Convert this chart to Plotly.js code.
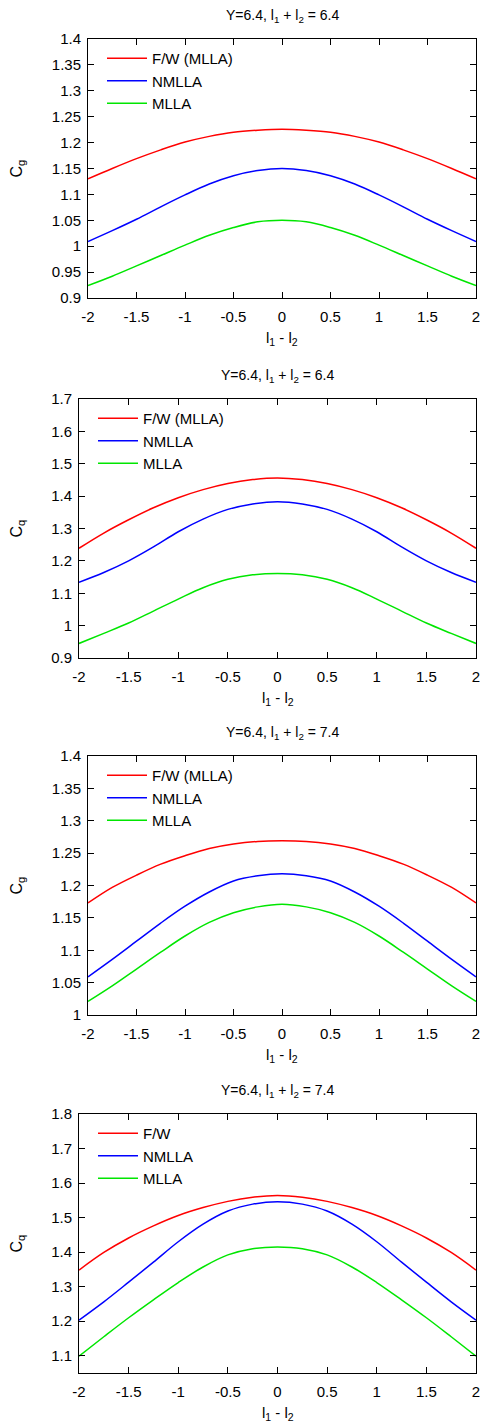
<!DOCTYPE html>
<html>
<head>
<meta charset="utf-8">
<script src="https://cdn.plot.ly/plotly-3.0.1.min.js"></script>
<style>
html,body{margin:0;padding:0;background:#fff;}
#chart{width:482px;height:1422px;}
</style>
</head>
<body>
<div id="chart"></div>
<script>
// ---- data ----
const x = [-2, -1.75, -1.5, -1.25, -1, -0.75, -0.5, -0.25, 0, 0.25, 0.5, 0.75, 1, 1.25, 1.5, 1.75, 2];

// Panel 1: Cg, l1+l2 = 6.4
const p1_fw    = [1.130, 1.150, 1.169, 1.186, 1.201, 1.212, 1.220, 1.224, 1.226, 1.224, 1.220, 1.212, 1.201, 1.186, 1.169, 1.150, 1.130];
const p1_nmlla = [1.009, 1.030, 1.052, 1.076, 1.099, 1.120, 1.136, 1.146, 1.150, 1.146, 1.136, 1.120, 1.099, 1.076, 1.052, 1.030, 1.009];
const p1_mlla  = [0.924, 0.942, 0.962, 0.982, 1.002, 1.021, 1.036, 1.047, 1.050, 1.047, 1.036, 1.021, 1.002, 0.982, 0.962, 0.942, 0.924];

// Panel 2: Cq, l1+l2 = 6.4
const p2_fw    = [1.239, 1.286, 1.327, 1.364, 1.395, 1.420, 1.439, 1.451, 1.456, 1.451, 1.439, 1.420, 1.395, 1.364, 1.327, 1.286, 1.239];
const p2_nmlla = [1.134, 1.164, 1.200, 1.243, 1.290, 1.329, 1.359, 1.376, 1.383, 1.376, 1.359, 1.329, 1.290, 1.243, 1.200, 1.164, 1.134];
const p2_mlla  = [0.945, 0.976, 1.008, 1.045, 1.082, 1.117, 1.143, 1.157, 1.161, 1.157, 1.143, 1.117, 1.082, 1.045, 1.008, 0.976, 0.945];

// Panel 3: Cg, l1+l2 = 7.4
const p3_fw    = [1.173, 1.197, 1.216, 1.233, 1.246, 1.257, 1.264, 1.268, 1.269, 1.268, 1.264, 1.257, 1.246, 1.233, 1.216, 1.197, 1.173];
const p3_nmlla = [1.059, 1.086, 1.114, 1.142, 1.168, 1.190, 1.207, 1.215, 1.218, 1.215, 1.207, 1.190, 1.168, 1.142, 1.114, 1.086, 1.059];
const p3_mlla  = [1.021, 1.045, 1.071, 1.097, 1.122, 1.143, 1.158, 1.167, 1.171, 1.167, 1.158, 1.143, 1.122, 1.097, 1.071, 1.045, 1.021];

// Panel 4: Cq, l1+l2 = 7.4
const p4_fw    = [1.348, 1.399, 1.441, 1.476, 1.506, 1.529, 1.547, 1.559, 1.564, 1.559, 1.547, 1.529, 1.506, 1.476, 1.441, 1.399, 1.348];
const p4_nmlla = [1.203, 1.256, 1.313, 1.371, 1.430, 1.481, 1.519, 1.539, 1.546, 1.539, 1.519, 1.481, 1.430, 1.371, 1.313, 1.256, 1.203];
const p4_mlla  = [1.099, 1.155, 1.210, 1.262, 1.312, 1.357, 1.392, 1.410, 1.415, 1.410, 1.392, 1.357, 1.312, 1.262, 1.210, 1.155, 1.099];

const titles = [
  "Y=6.4, l<sub>1</sub> + l<sub>2</sub> = 6.4",
  "Y=6.4, l<sub>1</sub> + l<sub>2</sub> = 6.4",
  "Y=6.4, l<sub>1</sub> + l<sub>2</sub> = 7.4",
  "Y=6.4, l<sub>1</sub> + l<sub>2</sub> = 7.4"
];
const yTitles = ["C<sub>g</sub>", "C<sub>q</sub>", "C<sub>g</sub>", "C<sub>q</sub>"];
const xTitle = "l<sub>1</sub> - l<sub>2</sub>";
const fwNames = ["F/W (MLLA)", "F/W (MLLA)", "F/W (MLLA)", "F/W"];

const xTickVals = [-2, -1.5, -1, -0.5, 0, 0.5, 1, 1.5, 2];
const xTickText = ["-2", "-1.5", "-1", "-0.5", "0", "0.5", "1", "1.5", "2"];

const y1TickVals = [0.9, 0.95, 1, 1.05, 1.1, 1.15, 1.2, 1.25, 1.3, 1.35, 1.4];
const y1TickText = ["0.9", "0.95", "1", "1.05", "1.1", "1.15", "1.2", "1.25", "1.3", "1.35", "1.4"];
const y2TickVals = [0.9, 1, 1.1, 1.2, 1.3, 1.4, 1.5, 1.6, 1.7];
const y2TickText = ["0.9", "1", "1.1", "1.2", "1.3", "1.4", "1.5", "1.6", "1.7"];
const y3TickVals = [1, 1.05, 1.1, 1.15, 1.2, 1.25, 1.3, 1.35, 1.4];
const y3TickText = ["1", "1.05", "1.1", "1.15", "1.2", "1.25", "1.3", "1.35", "1.4"];
const y4TickVals = [1.1, 1.2, 1.3, 1.4, 1.5, 1.6, 1.7, 1.8];
const y4TickText = ["1.1", "1.2", "1.3", "1.4", "1.5", "1.6", "1.7", "1.8"];

const yRanges = [[0.9, 1.4], [0.9, 1.7], [1.0, 1.4], [1.05, 1.8]];

// ---- layout geometry (pixels) ----
const W = 482, H = 1422;
const panels = [
  {left: 88, right: 476, top: 39,   bottom: 298},
  {left: 79, right: 476, top: 399,  bottom: 658},
  {left: 88, right: 476, top: 756,  bottom: 1015},
  {left: 79, right: 476, top: 1114, bottom: 1373}
];

const series = [
  [p1_fw, p1_nmlla, p1_mlla],
  [p2_fw, p2_nmlla, p2_mlla],
  [p3_fw, p3_nmlla, p3_mlla],
  [p4_fw, p4_nmlla, p4_mlla]
];
const yTicks = [[y1TickVals, y1TickText], [y2TickVals, y2TickText], [y3TickVals, y3TickText], [y4TickVals, y4TickText]];
const colors = ["#ff0000", "#0000ff", "#00e600"];
const FONT = "Liberation Sans, Arial, Helvetica, sans-serif";
const FS = 15;

const data = [];
const layout = {
  width: W, height: H,
  margin: {l: 0, r: 0, t: 0, b: 0},
  paper_bgcolor: "#fff", plot_bgcolor: "#fff",
  font: {family: FONT, size: FS, color: "#000"},
  annotations: [],
  showlegend: true
};

panels.forEach((p, i) => {
  const n = i + 1;
  const xa = n === 1 ? "x" : "x" + n;
  const ya = n === 1 ? "y" : "y" + n;
  const lg = n === 1 ? "legend" : "legend" + n;
  const names = [fwNames[i], "NMLLA", "MLLA"];
  series[i].forEach((vals, k) => {
    data.push({
      x: x, y: vals, type: "scatter", mode: "lines",
      line: {color: colors[k], width: 1.5, shape: "spline", smoothing: 1},
      name: names[k], xaxis: xa, yaxis: ya, legend: lg
    });
  });
  const xd = [p.left / W, p.right / W];
  const yd = [1 - p.bottom / H, 1 - p.top / H];
  layout["xaxis" + (n === 1 ? "" : n)] = {
    domain: xd, anchor: ya, range: [-2, 2],
    tickvals: xTickVals, ticktext: xTickText,
    ticks: "inside", ticklen: 6, tickcolor: "#000", tickwidth: 1,
    showline: true, linecolor: "#000", linewidth: 1, mirror: "ticks",
    showgrid: false, zeroline: false, ticklabelstandoff: 5,
    tickfont: {size: FS}
  };
  layout["yaxis" + (n === 1 ? "" : n)] = {
    domain: yd, anchor: xa, range: yRanges[i],
    tickvals: yTicks[i][0], ticktext: yTicks[i][1],
    ticks: "inside", ticklen: 6, tickcolor: "#000", tickwidth: 1,
    showline: true, linecolor: "#000", linewidth: 1, mirror: "ticks",
    showgrid: false, zeroline: false, ticklabelstandoff: 3,
    tickfont: {size: FS}
  };
  layout[lg] = {
    x: (p.left + 14) / W, y: 1 - (p.top + 3) / H,
    xanchor: "left", yanchor: "top",
    bgcolor: "rgba(0,0,0,0)", borderwidth: 0,
    font: {size: FS}, tracegroupgap: 0, itemwidth: 40
  };
  const cx = (p.left + p.right) / 2 / W;
  layout.annotations.push({
    text: titles[i], xref: "paper", yref: "paper",
    x: cx, y: 1 - (p.top - 23) / H, xanchor: "center", yanchor: "middle",
    showarrow: false, font: {size: FS - 1}
  });
  layout.annotations.push({
    text: xTitle, xref: "paper", yref: "paper",
    x: cx, y: 1 - (p.bottom + 40) / H, xanchor: "center", yanchor: "middle",
    showarrow: false, font: {size: FS}
  });
  layout.annotations.push({
    text: yTitles[i], xref: "paper", yref: "paper",
    x: 17 / W, y: 1 - ((p.top + p.bottom) / 2) / H, xanchor: "center", yanchor: "middle",
    textangle: -90, showarrow: false, font: {size: FS + 1}
  });
});

Plotly.newPlot("chart", data, layout, {staticPlot: true, displayModeBar: false});
</script>
</body>
</html>
